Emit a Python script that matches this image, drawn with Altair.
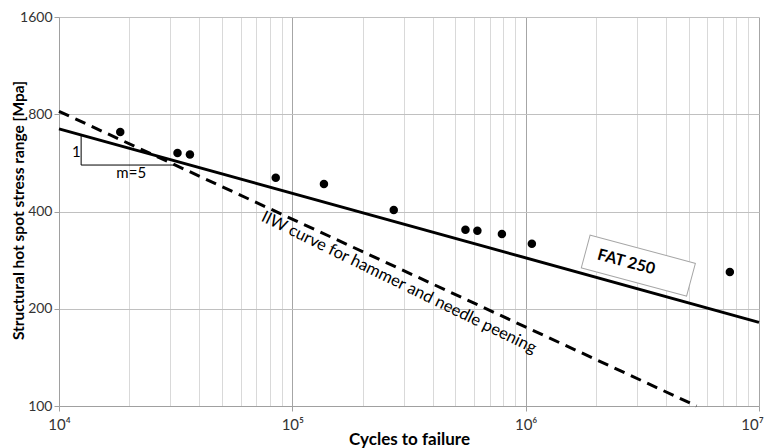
import altair as alt
import pandas as pd

# ---- data ----
cycles = [18300, 32200, 36400, 84900, 136600, 272000, 552000, 621000, 791000, 1063000, 7500000]
stress = [705, 607, 600, 509, 487, 404, 351, 349, 341, 318, 260]

fat_cycles = [1e4, 1e7]
fat_stress = [721, 181.5]

iiw_cycles = [1e4, 5.4e6]
iiw_stress = [817, 100]

tri_cycles = [12440, 12440, 31500]
tri_stress = [685, 557, 557]
tri_order = [0, 1, 2]

ann_text = ["1", "m=5"]
ann_cycles = [11880, 20400]
ann_stress = [613, 526]

iiw_label = ["IIW curve for hammer and needle peening"]
iiw_label_cycles = [286000]
iiw_label_stress = [241]

fat_label = ["FAT 250"]
fat_label_cycles = [2.70e6]
fat_label_stress = [279]
fat_box_cycles = [3.04e6]
fat_box_stress = [272]

x_major = [10000, 100000, 1000000, 10000000]
x_major_labels = ["10⁴", "10⁵", "10⁶", "10⁷"]
x_grid = [m * 10 ** e for e in (4, 5, 6) for m in range(1, 10)] + [10000000]
y_ticks = [100, 200, 400, 800, 1600]

FONT = "Lato"

label_expr = " : ".join(
    f"datum.value == {v} ? '{l}'" for v, l in zip(x_major, x_major_labels)
) + " : ''"
major_test = "indexof([" + ",".join(str(v) for v in x_major) + "], datum.value) >= 0"
last_test = f"datum.value == {x_major[-1]}"

x_enc = alt.X(
    "N:Q",
    scale=alt.Scale(type="log", base=10, domain=[1e4, 1e7], nice=False),
    axis=alt.Axis(
        values=x_grid,
        labelExpr=label_expr,
        labelFlush=False,
        labelOverlap=False,
        labelFont=FONT,
        labelFontSize=15,
        labelColor="#333333",
        labelPadding=6,
        labelOffset={"condition": {"test": last_test, "value": -7}, "value": 0},
        tickSize=5,
        tickColor="#a0a0a0",
        tickOpacity={"condition": {"test": major_test, "value": 1}, "value": 0},
        gridColor={"condition": {"test": major_test, "value": "#a6a6a6"}, "value": "#d9d9d9"},
        domainColor="#a0a0a0",
        title="Cycles to failure",
        titleFont=FONT,
        titleFontSize=17,
        titleFontWeight="bold",
        titleColor="#000000",
        titleX=350,
        titleY=38,
        titleBaseline="alphabetic",
    ),
)
y_enc = alt.Y(
    "S:Q",
    scale=alt.Scale(type="log", base=2, domain=[100, 1600], nice=False),
    axis=alt.Axis(
        values=y_ticks,
        format="d",
        labelFont=FONT,
        labelFontSize=14,
        labelColor="#333333",
        labelPadding=2,
        tickSize=5,
        tickColor="#a0a0a0",
        gridColor="#c0c0c0",
        domainColor="#a0a0a0",
        title="Structural hot spot stress range [Mpa]",
        titleFont=FONT,
        titleFontSize=15.5,
        titleFontWeight="bold",
        titleColor="#000000",
        titleAngle=-90,
        titleX=-41,
        titleY=193,
        titleAlign="center",
        titleBaseline="middle",
    ),
)

pts = pd.DataFrame({"N": cycles, "S": stress})
fat = pd.DataFrame({"N": fat_cycles, "S": fat_stress})
iiw = pd.DataFrame({"N": iiw_cycles, "S": iiw_stress})
tri = pd.DataFrame({"N": tri_cycles, "S": tri_stress, "o": tri_order})
ann = pd.DataFrame({"N": ann_cycles, "S": ann_stress, "t": ann_text})
iiwl = pd.DataFrame({"N": iiw_label_cycles, "S": iiw_label_stress, "t": iiw_label})
fatl = pd.DataFrame({"N": fat_label_cycles, "S": fat_label_stress, "t": fat_label})
fatb = pd.DataFrame({"N": fat_box_cycles, "S": fat_box_stress})

iiw_layer = alt.Chart(iiw).mark_line(color="black", strokeWidth=3, strokeDash=[11, 7]).encode(x=x_enc, y=y_enc)
fat_layer = alt.Chart(fat).mark_line(color="black", strokeWidth=3).encode(x=x_enc, y=y_enc)
tri_layer = alt.Chart(tri).mark_line(color="black", strokeWidth=1).encode(x=x_enc, y=y_enc, order="o:Q")
pts_layer = alt.Chart(pts).mark_circle(color="black", size=72, opacity=1).encode(x=x_enc, y=y_enc)
ann_layer = alt.Chart(ann).mark_text(font=FONT, fontSize=15, color="black").encode(x=x_enc, y=y_enc, text="t:N")
iiwl_layer = alt.Chart(iiwl).mark_text(font=FONT, fontSize=16.5, color="black", angle=26).encode(
    x=x_enc, y=y_enc, text="t:N")
box_layer = alt.Chart(fatb).mark_point(
    shape="M-1,-0.312L1,-0.312L1,0.312L-1,0.312Z",
    size=11881, angle=15, filled=True, fill="white", stroke="#a6a6a6", strokeWidth=1, opacity=1,
).encode(x=x_enc, y=y_enc)
fatl_layer = alt.Chart(fatl).mark_text(font=FONT, fontSize=16, fontWeight="bold", color="black", angle=15).encode(
    x=x_enc, y=y_enc, text="t:N")

chart = alt.layer(
    iiw_layer, fat_layer, tri_layer, pts_layer, ann_layer, iiwl_layer, box_layer, fatl_layer
).properties(
    width=700,
    height=389,
    autosize=alt.AutoSizeParams(type="none"),
    padding={"left": 51, "top": 9, "right": 6, "bottom": 42},
).configure(font=FONT).configure_view(stroke="transparent")

chart.save("out.html", embed_options={"renderer": "svg", "actions": False})
